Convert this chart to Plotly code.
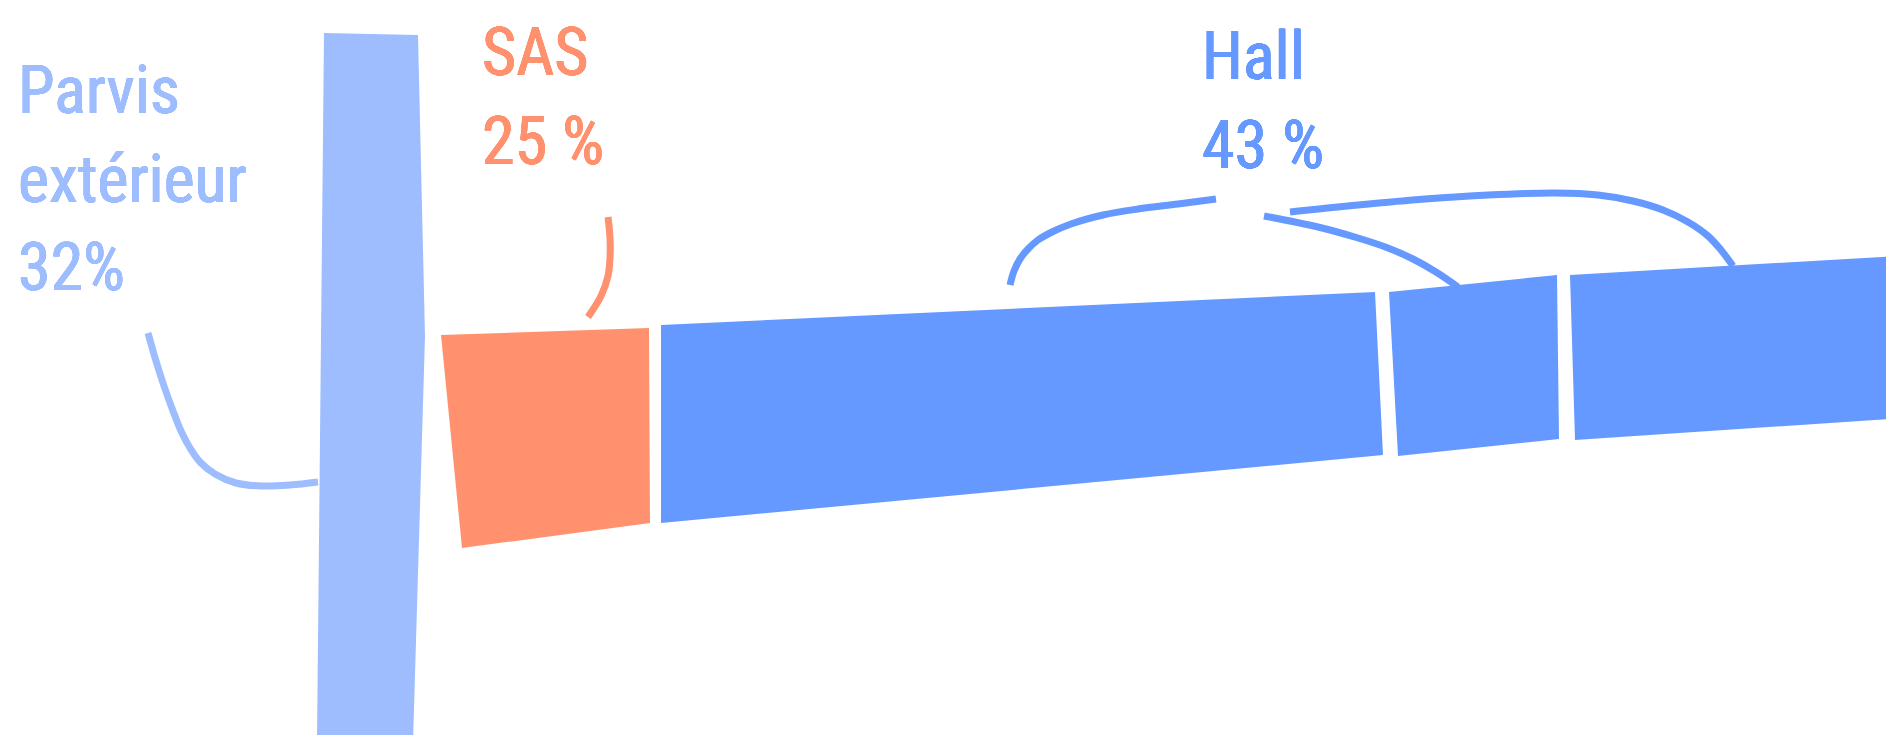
import plotly.graph_objects as go

# ---- data ----
categories = ["Parvis extérieur", "SAS", "Hall"]
shares = [32, 25, 43]
label_lines = [["Parvis", "extérieur", "32%"], ["SAS", "25 %"], ["Hall", "43 %"]]
colors = ["#9DBDFF", "#FF916E", "#6699FF"]

# ---- geometry (pixel space of the floor drawing) ----
W, H = 1894, 735
polys = {
    "Parvis extérieur": [
        ([316, 410, 417, 405, 309], [25, 27, 328, 735, 735]),
    ],
    "SAS": [
        ([433, 641, 642, 454], [327, 320, 515, 540]),
    ],
    "Hall": [
        ([653, 1367, 1375, 653], [317, 284, 447, 515]),
        ([1381, 1549, 1551, 1390], [284, 267, 431, 448]),
        ([1562, 1890, 1896, 1896, 1567], [267, 248, 300, 410, 432]),
    ],
}
leaders = {
    "Parvis extérieur": [
        ([140, 148, 156, 165, 173, 182, 192, 207, 228, 253, 282, 310],
         [325, 353, 378, 403, 423, 440, 454, 466, 475, 478, 477, 474]),
    ],
    "SAS": [
        ([600, 602, 602, 600, 593, 580], [209, 230, 250, 268, 288, 309]),
    ],
    "Hall": [
        ([1002, 1006, 1012, 1020, 1030, 1044, 1063, 1095, 1130, 1170, 1208],
         [277, 263, 251, 241, 232, 224, 216, 207, 201, 196, 191]),
        ([1256, 1310, 1350, 1380, 1405, 1428, 1450], [208, 219, 230, 240, 251, 264, 279]),
        ([1282, 1350, 1417, 1480, 1547, 1590, 1625, 1655, 1680, 1700, 1713, 1725],
         [204, 197, 191, 187, 185, 187, 193, 202, 214, 228, 242, 258]),
    ],
}
# left x of label block, baseline of the first line
label_pos = {
    "Parvis extérieur": (8, 113),
    "SAS": (472, 75),
    "Hall": (1192, 79),
}

FONT = "Roboto Condensed, Open Sans Condensed, DejaVu Sans Condensed, sans-serif"
FS = 66
LINE_GAP = 88.5


def heavier(col, d=0.45):
    return ", ".join(f"{dx:.2f}px {dy:.2f}px 0 {col}" for dx, dy in
                     [(d, 0), (-d, 0), (0, d), (0, -d), (d * 0.7, d * 0.7), (-d * 0.7, -d * 0.7),
                      (d * 0.7, -d * 0.7), (-d * 0.7, d * 0.7)])


fig = go.Figure()
for cat, col in zip(categories, colors):
    for xs, ys in polys[cat]:
        fig.add_trace(go.Scatter(x=xs + [xs[0]], y=ys + [ys[0]], mode="lines", fill="toself",
                                 fillcolor=col, line=dict(width=0, color=col),
                                 hoverinfo="skip", showlegend=False))
    for xs, ys in leaders[cat]:
        fig.add_trace(go.Scatter(x=xs, y=ys, mode="lines",
                                 line=dict(width=7, color=col, shape="spline", smoothing=1.0),
                                 hoverinfo="skip", showlegend=False))

for cat, col, lines in zip(categories, colors, label_lines):
    x0, base = label_pos[cat]
    for i, txt in enumerate(lines):
        b = base + i * LINE_GAP
        fig.add_annotation(x=x0, y=b - 1.07 * FS, xref="x", yref="y",
                           text=txt, showarrow=False,
                           xanchor="left", yanchor="top", align="left",
                           font=dict(family=FONT, size=FS, color=col, weight=400,
                                     shadow=heavier(col)))

fig.update_layout(
    width=W, height=H,
    margin=dict(l=0, r=0, t=0, b=0),
    paper_bgcolor="white", plot_bgcolor="white",
    xaxis=dict(range=[0, W], visible=False, fixedrange=True),
    yaxis=dict(range=[H, 0], visible=False, fixedrange=True),
    showlegend=False,
)
fig.write_html("out.html")
